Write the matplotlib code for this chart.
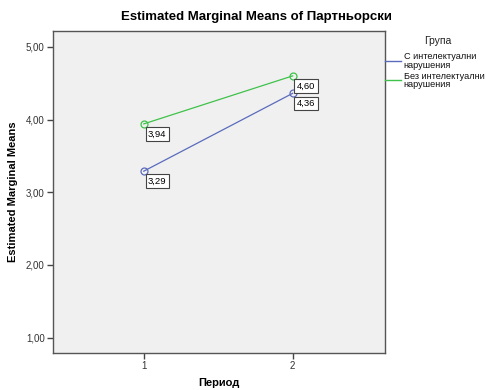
import matplotlib.pyplot as plt

plt.rcParams['font.family'] = ['Liberation Sans', 'DejaVu Sans']

periods = [1, 2]
group_names = ["С интелектуални\nнарушения", "Без интелектуални\nнарушения"]
means_with = [3.29, 4.36]
means_without = [3.94, 4.60]
colors = ['#5a6bbd', '#3fc24a']
y_ticks = [1.0, 2.0, 3.0, 4.0, 5.0]

fig = plt.figure(figsize=(4.86, 3.90), dpi=100)
ax = fig.add_axes([0.109, 0.095, 0.683, 0.826])
ax.set_facecolor('#f0f0f0')

for means, c in [(means_with, colors[0]), (means_without, colors[1])]:
    ax.plot(periods, means, color=c, lw=0.9, marker='o', ms=5,
            mfc='none', mec=c, mew=0.9)
    for x, v in zip(periods, means):
        ax.annotate(f"{v:.2f}".replace('.', ','), (x, v), xytext=(3, -4),
                    textcoords='offset points', ha='left', va='top',
                    fontsize=6.8,
                    bbox=dict(boxstyle='square,pad=0.25', fc='white',
                              ec='#444444', lw=0.8))

ax.set_xlim(0.39, 2.62)
ax.set_ylim(0.79, 5.22)
ax.set_xticks(periods)
ax.set_xticklabels([str(p) for p in periods])
ax.set_yticks(y_ticks)
ax.set_yticklabels([f"{t:.2f}".replace('.', ',') for t in y_ticks])
ax.tick_params(labelsize=7, length=4, width=1, color='#444444',
               labelcolor='#333333', pad=2)
for s in ax.spines.values():
    s.set_color('#555555')
    s.set_linewidth(1.0)

ax.set_xlabel("Период", fontsize=8, fontweight='bold', labelpad=5)
ax.set_ylabel("Estimated Marginal Means", fontsize=8, fontweight='bold',
              labelpad=6)
fig.suptitle("Estimated Marginal Means of Партньорски", fontsize=9.5,
             fontweight='bold', x=0.528, y=0.972)

# legend drawn by hand, SPSS style
fig.text(0.901, 0.895, "Група", fontsize=7.5, ha='center', va='center',
         color='#222222')
for i, (name, c) in enumerate(zip(group_names, colors)):
    y0 = 0.843 - i * 0.049
    fig.add_artist(plt.Line2D([0.792, 0.825], [y0, y0], color=c, lw=1.0,
                              transform=fig.transFigure))
    fig.text(0.831, y0, name, fontsize=6.6, ha='left', va='center',
             linespacing=0.95, color='#111111')

fig.savefig("out.png", dpi=100)
